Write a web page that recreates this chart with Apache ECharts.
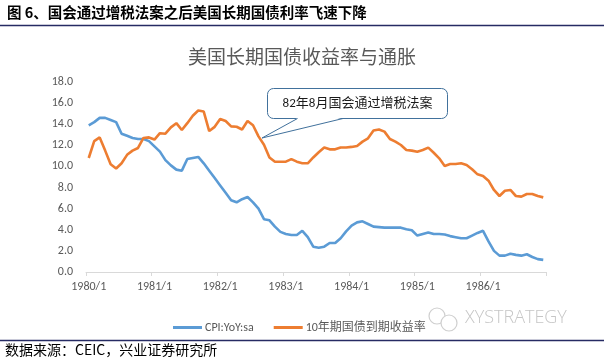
<!DOCTYPE html>
<html><head><meta charset="utf-8">
<script src="https://cdn.jsdelivr.net/npm/echarts@6/dist/echarts.min.js"></script>
<style>html,body{margin:0;padding:0;background:#fff}#c{width:604px;height:360px}</style>
</head><body><div id="c"></div>
<script>
const years = [1980, 1981, 1982, 1983, 1984, 1985, 1986];
const months = [1, 2, 3, 4, 5, 6, 7, 8, 9, 10, 11, 12];
const categories = [];
years.forEach(y => months.forEach(m => categories.push(y + '/' + m)));

const cpiYoY = [
  13.9, 14.2, 14.6, 14.6, 14.4, 14.2, 13.1, 12.9, 12.7, 12.6, 12.6, 12.4,
  11.9, 11.4, 10.6, 10.1, 9.7, 9.6, 10.7, 10.8, 10.9, 10.3, 9.6, 8.9,
  8.2, 7.5, 6.8, 6.6, 6.9, 7.1, 6.6, 6.0, 5.0, 4.9, 4.3, 3.8,
  3.6, 3.5, 3.5, 3.9, 3.3, 2.4, 2.3, 2.4, 2.75, 2.75, 3.2, 3.85,
  4.4, 4.7, 4.8, 4.55, 4.3, 4.25, 4.2, 4.2, 4.2, 4.2, 4.05, 3.95,
  3.45, 3.6, 3.75, 3.6, 3.6, 3.55, 3.4, 3.3, 3.2, 3.2, 3.45, 3.7,
  3.9, 2.9, 2.0, 1.55, 1.55, 1.72, 1.62, 1.55, 1.68, 1.42, 1.22, 1.15
];
const bond10y = [
  10.8, 12.4, 12.75, 11.5, 10.2, 9.8, 10.3, 11.1, 11.5, 11.75, 12.7, 12.75,
  12.55, 13.15, 13.1, 13.7, 14.1, 13.45, 14.1, 14.8, 15.3, 15.2, 13.35, 13.75,
  14.5, 14.3, 13.8, 13.76, 13.5, 14.3, 13.9, 12.85, 12.05, 10.85, 10.45, 10.45,
  10.45, 10.7, 10.45, 10.3, 10.3, 10.85, 11.35, 11.8, 11.62, 11.62, 11.8, 11.8,
  11.85, 11.94, 12.35, 12.66, 13.4, 13.5, 13.3, 12.6, 12.35, 12.03, 11.56, 11.5,
  11.4, 11.56, 11.78, 11.3, 10.77, 10.05, 10.23, 10.23, 10.3, 10.14, 9.73, 9.25,
  9.1, 8.65, 7.77, 7.2, 7.7, 7.77, 7.2, 7.14, 7.39, 7.39, 7.2, 7.07
];
const seriesNames = ['CPI:YoY:sa', '10年期国债到期收益率'];
const yMin = 0, yMax = 18, yStep = 2;
const chartTitle = '美国长期国债收益率与通胀';
const headerText = '图 6、国会通过增税法案之后美国长期国债利率飞速下降';
const sourceText = '数据来源：CEIC，兴业证券研究所';
const annotationText = '82年8月国会通过增税法案';
const watermarkText = 'XYSTRATEGY';

const latin = 'Carlito, Lato, "Noto Sans CJK SC", sans-serif';
const cjk = '"Noto Sans CJK SC", sans-serif';
const navy = '#262B63';
const calloutStroke = '#41719C';

const chart = echarts.init(document.getElementById('c'), null, {renderer: 'canvas'});
chart.setOption({
  animation: false,
  backgroundColor: '#fff',
  title: {
    text: chartTitle, left: 'center', top: 42,
    textStyle: {fontFamily: cjk, fontSize: 19, fontWeight: 'normal', color: '#595959'}
  },
  grid: {left: 86, right: 58, top: 82, height: 190, containLabel: false},
  legend: {
    left: 168, top: 316.5, itemWidth: 29, itemHeight: 3, itemGap: 20, icon: 'rect',
    textStyle: {fontFamily: latin, fontSize: 12, color: '#595959', padding: [0, 0, 0, -2]},
    data: seriesNames
  },
  xAxis: {
    type: 'category', data: categories, boundaryGap: true,
    axisLine: {lineStyle: {color: '#D9D9D9', width: 1}},
    axisTick: {show: true, interval: 11, length: 4, lineStyle: {color: '#D9D9D9'}},
    axisLabel: {interval: 11, color: '#595959', fontFamily: latin, fontSize: 12, margin: 9},
    splitLine: {show: false}
  },
  yAxis: {
    type: 'value', min: yMin, max: yMax, interval: yStep,
    axisLine: {show: false}, axisTick: {show: false}, splitLine: {show: false},
    axisLabel: {color: '#595959', fontFamily: latin, fontSize: 12, margin: 13,
      formatter: v => v.toFixed(1)}
  },
  series: [
    {name: seriesNames[0], type: 'line', data: cpiYoY, symbol: 'none', smooth: false,
      lineStyle: {color: '#5B9BD5', width: 2.6}, itemStyle: {color: '#5B9BD5'}, z: 3},
    {name: seriesNames[1], type: 'line', data: bond10y, symbol: 'none', smooth: false,
      lineStyle: {color: '#ED7D31', width: 2.6}, itemStyle: {color: '#ED7D31'}, z: 3}
  ],
  graphic: [
    {type: 'text', left: 7, top: 5, z: 100,
      style: {text: headerText, fontFamily: cjk, fontSize: 14.5, fontWeight: 'bold', fill: '#000'}},
    {type: 'line', z: 100, shape: {x1: 0, y1: 25.5, x2: 604, y2: 25.5},
      style: {stroke: navy, lineWidth: 1.5}},
    {type: 'line', z: 100, shape: {x1: 0, y1: 340.5, x2: 604, y2: 340.5},
      style: {stroke: navy, lineWidth: 1.5}},
    {type: 'text', left: 5, top: 343, z: 100,
      style: {text: sourceText, fontFamily: cjk, fontSize: 14, fill: '#000'}},
    // callout
    {type: 'rect', z: 100, shape: {x: 267.5, y: 88.5, width: 180, height: 30, r: 6},
      style: {fill: '#fff', stroke: calloutStroke, lineWidth: 1}},
    {type: 'polygon', z: 101, shape: {points: [[298, 117.8], [342.5, 117.8], [262, 138]]},
      style: {fill: '#fff', stroke: null}},
    {type: 'polyline', z: 102, shape: {points: [[297.5, 118.5], [262, 138], [343, 118.5]]},
      style: {stroke: calloutStroke, lineWidth: 1, fill: null}},
    {type: 'text', z: 103, x: 357.5, y: 103.5,
      style: {text: annotationText, fontFamily: latin, fontSize: 13, fill: '#1a1a1a',
        align: 'center', verticalAlign: 'middle'}},
    // watermark
    {type: 'circle', z: 100, shape: {cx: 437, cy: 316, r: 8},
      style: {fill: 'none', stroke: '#cfcfcf', lineWidth: 1.2}},
    {type: 'circle', z: 101, shape: {cx: 449, cy: 323, r: 8},
      style: {fill: '#fff', stroke: '#cfcfcf', lineWidth: 1.2}},
    {type: 'text', z: 100, x: 465, y: 318,
      style: {text: watermarkText, fontFamily: '"Open Sans", Lato, sans-serif', fontSize: 18,
        fontWeight: 300, fill: '#c6c6c6', verticalAlign: 'middle'}}
  ]
});
</script>
</body></html>
